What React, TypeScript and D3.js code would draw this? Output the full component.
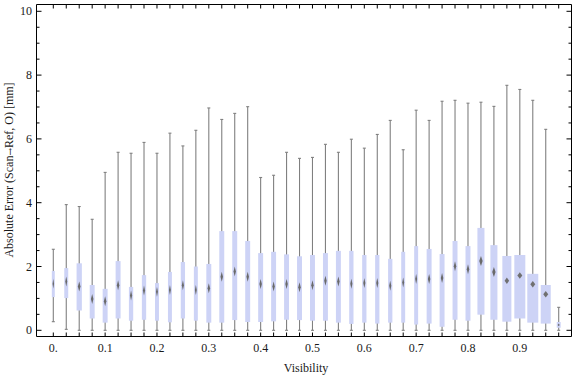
import React from "react";
import * as d3 from "d3";

const visibility = [0, 0.025, 0.05, 0.075, 0.1, 0.125, 0.15, 0.175, 0.2, 0.225, 0.25, 0.275, 0.3, 0.325, 0.35, 0.375, 0.4, 0.425, 0.45, 0.475, 0.5, 0.525, 0.55, 0.575, 0.6, 0.625, 0.65, 0.675, 0.7, 0.725, 0.75, 0.775, 0.8, 0.825, 0.85, 0.875, 0.9, 0.925, 0.95, 0.975];
const whiskerLow = [0.27, 0.03, 0, 0, 0, 0, 0, 0, 0, 0, 0, 0, 0, 0, 0, 0, 0, 0, 0, 0, 0, 0, 0, 0, 0, 0, 0, 0, 0, 0, 0, 0, 0, 0, 0, 0, 0, 0, 0, 0];
const q1 = [1.04, 1.01, 0.62, 0.37, 0.24, 0.37, 0.30, 0.33, 0.30, 0.25, 0.37, 0.30, 0.24, 0.24, 0.32, 0.26, 0.26, 0.28, 0.33, 0.32, 0.30, 0.30, 0.24, 0.20, 0.24, 0.21, 0.24, 0.24, 0.18, 0.21, 0.11, 0.33, 0.30, 0.49, 0.33, 0.27, 0.37, 0.24, 0.21, 0.08];
const median = [1.46, 1.53, 1.37, 0.98, 0.91, 1.41, 1.09, 1.25, 1.21, 1.26, 1.41, 1.26, 1.32, 1.68, 1.84, 1.68, 1.45, 1.37, 1.45, 1.35, 1.41, 1.55, 1.53, 1.46, 1.48, 1.48, 1.40, 1.50, 1.61, 1.61, 1.64, 2.01, 1.91, 2.17, 1.83, 1.55, 1.72, 1.44, 1.13, 0.17];
const q3 = [1.86, 1.95, 2.10, 1.42, 1.30, 2.17, 1.36, 1.73, 1.48, 1.83, 2.14, 2.00, 2.08, 3.11, 3.11, 2.80, 2.42, 2.46, 2.38, 2.32, 2.36, 2.42, 2.49, 2.49, 2.36, 2.36, 2.24, 2.46, 2.64, 2.55, 2.39, 2.80, 2.64, 3.21, 2.67, 2.33, 2.36, 1.77, 1.42, 0.26];
const whiskerHigh = [2.54, 3.94, 3.88, 3.48, 4.95, 5.58, 5.55, 5.89, 5.55, 6.18, 5.78, 6.27, 6.97, 6.61, 6.80, 7.01, 4.79, 4.86, 5.58, 5.39, 5.42, 5.83, 5.58, 5.99, 5.71, 6.14, 6.58, 5.66, 6.90, 6.58, 7.18, 7.21, 7.12, 7.15, 7.02, 7.68, 7.55, 7.21, 6.30, 0.72];
const binWeight = [0.27, 0.36, 0.48, 0.45, 0.45, 0.45, 0.39, 0.39, 0.36, 0.36, 0.39, 0.36, 0.45, 0.45, 0.45, 0.45, 0.45, 0.45, 0.45, 0.45, 0.45, 0.45, 0.45, 0.39, 0.39, 0.39, 0.39, 0.36, 0.36, 0.45, 0.45, 0.45, 0.45, 0.64, 0.64, 0.82, 1.0, 1.0, 0.91, 0.36];

const xTickLabels = ["0.", "0.1", "0.2", "0.3", "0.4", "0.5", "0.6", "0.7", "0.8", "0.9"];
const xTickValues = [0, 0.1, 0.2, 0.3, 0.4, 0.5, 0.6, 0.7, 0.8, 0.9];
const yTickValues = [0, 2, 4, 6, 8, 10];
const yMinorValues = d3.range(0, 10.01, 0.5);

const xLabel = "Visibility";
const yLabelA = "Absolute Error (Scan";
const yLabelArrow = "\u2192";
const yLabelB = "Ref, O) [mm]";

export default function App() {
  const W = 576, H = 377;
  const left = 36.5, right = 571.5, top = 4.5, bottom = 336.5;
  const x = d3.scaleLinear().domain([0, 0.975]).range([53.3, 558.7]);
  const y = d3.scaleLinear().domain([0, 10]).range([330.3, 11.3]);
  const wScale = d3.scaleLinear().domain([0, 1]).range([0, 11]);
  const font = "'Liberation Serif', 'Times New Roman', serif";
  const whiskerColor = "#808080";
  const boxFill = "#cdd3f6";

  return (
    <svg width={W} height={H} style={{ position: "absolute", left: 0, top: 0, background: "#fff" }}>
      <defs>
        <filter id="soft" x="-50%" y="-50%" width="200%" height="200%">
          <feGaussianBlur stdDeviation="0.55" />
        </filter>
      </defs>
      {visibility.map((v, i) => {
        const cx = x(v);
        const bw = wScale(binWeight[i]);
        const capW = 3;
        const wide = bw >= 8.5;
        const boxH = y(q1[i]) - y(q3[i]);
        const mw = Math.min(wide ? 5 : 3.4, bw * 0.5);
        const mh = Math.min(wide ? 6.5 : 10, boxH * 0.5);
        const my = y(median[i]);
        const diamond = d3.line()([
          [cx, my - mh / 2],
          [cx + mw / 2, my],
          [cx, my + mh / 2],
          [cx - mw / 2, my],
        ]) + "Z";
        return (
          <g key={i}>
            <line x1={cx} x2={cx} y1={y(whiskerLow[i])} y2={y(whiskerHigh[i])} stroke={whiskerColor} strokeWidth={1.1} />
            <line x1={cx - capW / 2} x2={cx + capW / 2} y1={y(whiskerHigh[i])} y2={y(whiskerHigh[i])} stroke={whiskerColor} strokeWidth={1.1} />
            <line x1={cx - capW / 2} x2={cx + capW / 2} y1={y(whiskerLow[i])} y2={y(whiskerLow[i])} stroke={whiskerColor} strokeWidth={1.1} />
            <rect x={cx - bw / 2} y={y(q3[i])} width={bw} height={boxH} fill={boxFill} />
            <path d={diamond} fill={wide ? "#707070" : "#6a6a6a"} filter={wide ? undefined : "url(#soft)"} />
          </g>
        );
      })}
      <line x1={left} x2={right} y1={top} y2={top} stroke="#000" strokeWidth={1} />
      <line x1={right} x2={right} y1={top} y2={bottom} stroke="#000" strokeWidth={1} />
      <line x1={left} x2={right} y1={bottom} y2={bottom} stroke="#000" strokeWidth={1} />
      <line x1={left} x2={left} y1={top} y2={bottom} stroke="#000" strokeWidth={1} />
      {visibility.map((v, i) => (
        <g key={"xt" + i}>
          <line x1={x(v)} x2={x(v)} y1={bottom} y2={bottom - 4} stroke="#000" />
          <line x1={x(v)} x2={x(v)} y1={top} y2={top + 4} stroke="#000" />
        </g>
      ))}
      {xTickValues.map((v, i) => (
        <text key={"xl" + i} x={x(v)} y={352} textAnchor="middle" fontFamily={font} fontSize={12} fill="#1a1a1a">
          {xTickLabels[i]}
        </text>
      ))}
      {yMinorValues.map((v, i) => {
        const major = Math.abs(v % 2) < 1e-6;
        const len = major ? 5 : 3;
        return (
          <g key={"yt" + i}>
            <line x1={left} x2={left + len} y1={y(v)} y2={y(v)} stroke="#000" />
            <line x1={right} x2={right - len} y1={y(v)} y2={y(v)} stroke="#000" />
          </g>
        );
      })}
      {yTickValues.map((v, i) => (
        <text key={"yl" + i} x={32} y={y(v) + 4} textAnchor="end" fontFamily={font} fontSize={12} fill="#1a1a1a">
          {String(v)}
        </text>
      ))}
      <text x={306} y={372} textAnchor="middle" fontFamily={font} fontSize={12} fill="#1a1a1a">{xLabel}</text>
      <text transform={`translate(13, 170) rotate(-90)`} textAnchor="middle" fontFamily={font} fontSize={12} fill="#1a1a1a">
        {yLabelA}
        <tspan fontFamily="'DejaVu Serif', serif" fontSize={9}>{yLabelArrow}</tspan>
        {yLabelB}
      </text>
    </svg>
  );
}
